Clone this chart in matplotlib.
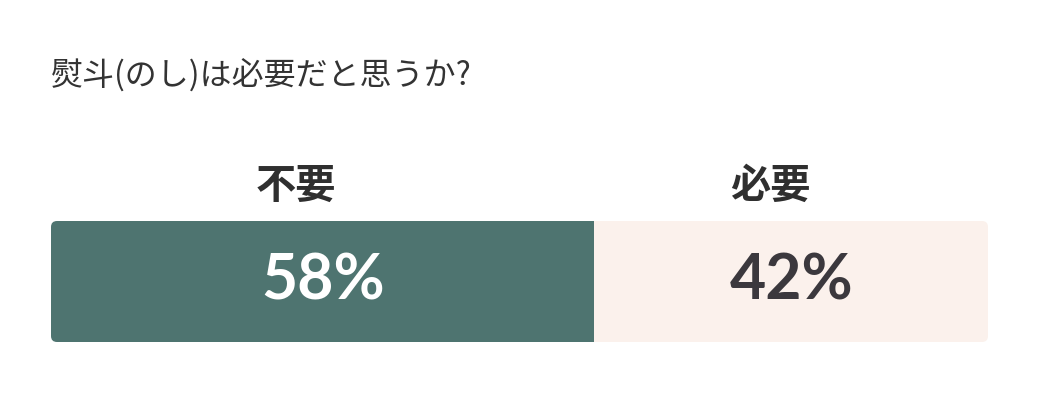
import matplotlib
matplotlib.use("Agg")
import matplotlib.pyplot as plt
from matplotlib.patches import FancyBboxPatch

title = "熨斗(のし)は必要だと思うか?"
categories = ["不要", "必要"]
values = [58, 42]
bar_colors = ["#4e7470", "#fbf1ec"]
value_colors = ["#ffffff", "#3b383d"]

W, H = 1040, 420
jp = ["Noto Sans CJK JP", "DejaVu Sans"]

fig = plt.figure(figsize=(W / 100, H / 100), dpi=100)
fig.patch.set_facecolor("white")

fig.text(51 / W, 1 - 75 / H, title, ha="left", va="center",
         fontsize=23, color="#333333", family=jp)

# bar area in pixels
x0, x1, y0, y1 = 51, 988, 221, 342
ax = fig.add_axes([x0 / W, 1 - y1 / H, (x1 - x0) / W, (y1 - y0) / H])
total = sum(values)
ax.set_xlim(0, total)
ax.set_ylim(-0.5, 0.5)
ax.axis("off")

# rounded outline used to clip the stacked bar
px_x = (x1 - x0) / total
px_y = (y1 - y0) / 1.0
clip = FancyBboxPatch((0, -0.5), total, 1,
                      boxstyle=f"round,pad=0,rounding_size={6 / px_x}",
                      mutation_aspect=px_x / px_y,
                      facecolor="none", edgecolor="none",
                      transform=ax.transData)
ax.add_patch(clip)

label_x = [296, 770]
left = 0
for cat, v, c, tc, lx in zip(categories, values, bar_colors, value_colors, label_x):
    bars = ax.barh(0, v, left=left, height=1, color=c, linewidth=0)
    bars[0].set_clip_path(clip)
    ax.text(left + v / 2, 0, f"{v}%", ha="center", va="center",
            color=tc, fontsize=45, fontweight="bold", family=["Lato", "DejaVu Sans"])
    fig.text(lx / W, 1 - 186 / H, cat, ha="center", va="center",
             fontsize=29, fontweight="bold", color="#2f2f2f", family=jp)
    left += v

fig.savefig("out.png", dpi=100, facecolor="white")
